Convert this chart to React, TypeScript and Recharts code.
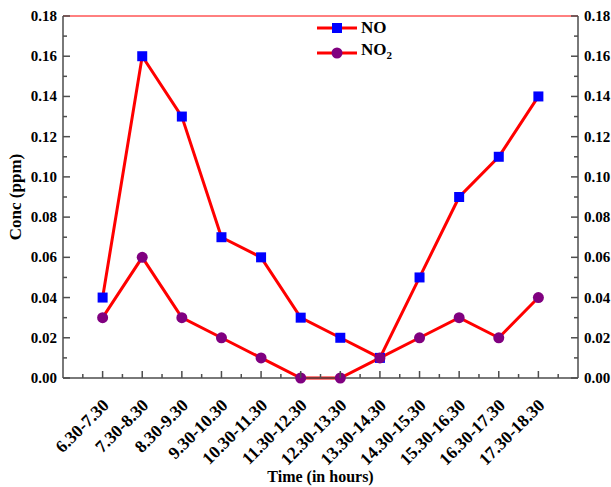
import React from "react"
import { LineChart, Line, XAxis, YAxis, ReferenceLine } from "recharts"

// hourly windows and measured concentrations (ppm)
const TIME_SLOTS = [
  "6.30-7.30", "7.30-8.30", "8.30-9.30", "9.30-10.30", "10.30-11.30", "11.30-12.30",
  "12.30-13.30", "13.30-14.30", "14.30-15.30", "15.30-16.30", "16.30-17.30", "17.30-18.30",
]
const NO_VALUES = [0.04, 0.16, 0.13, 0.07, 0.06, 0.03, 0.02, 0.01, 0.05, 0.09, 0.11, 0.14]
const NO2_VALUES = [0.03, 0.06, 0.03, 0.02, 0.01, 0.0, 0.0, 0.01, 0.02, 0.03, 0.02, 0.04]
const CONC_TICKS = [
  0, 0.01, 0.02, 0.03, 0.04, 0.05, 0.06, 0.07, 0.08, 0.09,
  0.1, 0.11, 0.12, 0.13, 0.14, 0.15, 0.16, 0.17, 0.18,
]

const SERIF = "'Liberation Serif', 'Times New Roman', serif"
const AXIS = "#4d4d4d"
const LINE_RED = "#ff0000"
const NO_BLUE = "#0000ff"
const NO2_PURPLE = "#800080"

const rows = TIME_SLOTS.map((t, i) => ({ slot: i + 1, label: t, no: NO_VALUES[i], no2: NO2_VALUES[i] }))
// slot positions plus the half-way minor ticks
const SLOT_TICKS = Array.from({ length: TIME_SLOTS.length * 2 + 1 }, (_, k) => 0.5 + k * 0.5)

const isMajorConc = (v: number) => Math.round(v * 100) % 2 === 0

const LeftTick = ({ x, y, payload }: any) => {
  const v = payload.value
  const major = isMajorConc(v)
  return (
    <g>
      <line x1={x} x2={x + (major ? 7 : 4)} y1={y} y2={y} stroke={AXIS} strokeWidth={1.5} />
      {major && (
        <text x={x - 6} y={y} dy={5} textAnchor="end" fontFamily={SERIF} fontWeight="bold" fontSize={15} fill="#000">
          {v.toFixed(2)}
        </text>
      )}
    </g>
  )
}

const RightTick = ({ x, y, payload }: any) => {
  const v = payload.value
  const major = isMajorConc(v)
  return (
    <g>
      <line x1={x} x2={x - (major ? 7 : 4)} y1={y} y2={y} stroke={AXIS} strokeWidth={1.5} />
      {major && (
        <text x={x + 6} y={y} dy={5} textAnchor="start" fontFamily={SERIF} fontWeight="bold" fontSize={15} fill="#000">
          {v.toFixed(2)}
        </text>
      )}
    </g>
  )
}

const TimeTick = ({ x, y, payload }: any) => {
  const v = payload.value
  const major = Number.isInteger(v)
  const label = major ? TIME_SLOTS[v - 1] : null
  return (
    <g>
      <line x1={x} x2={x} y1={y} y2={y - (major ? 7 : 4)} stroke={AXIS} strokeWidth={1.5} />
      {label && (
        <text
          transform={`translate(${x + 3},${y + 24}) rotate(-45)`}
          textAnchor="end"
          dy="0.35em"
          fontFamily={SERIF}
          fontWeight="bold"
          fontSize={17.5}
          fill="#000"
        >
          {label}
        </text>
      )}
    </g>
  )
}

const SquareDot = ({ cx, cy }: any) => (
  <rect x={cx - 5} y={cy - 5} width={10} height={10} fill={NO_BLUE} />
)

const RoundDot = ({ cx, cy }: any) => <circle cx={cx} cy={cy} r={5.5} fill={NO2_PURPLE} />

const SeriesKey = () => {
  const items = [
    { key: "no", name: <>NO</>, marker: <rect x={15} y={2} width={10} height={10} fill={NO_BLUE} /> },
    {
      key: "no2",
      name: (
        <>
          NO<sub style={{ fontSize: 11 }}>2</sub>
        </>
      ),
      marker: <circle cx={20} cy={7} r={5.5} fill={NO2_PURPLE} />,
    },
  ]
  return (
    <div
      style={{
        position: "absolute",
        left: 317,
        top: 15,
        fontFamily: SERIF,
        fontWeight: "bold",
        fontSize: 17,
        color: "#000",
      }}
    >
      {items.map((it) => (
        <div key={it.key} style={{ display: "flex", alignItems: "center", height: 25 }}>
          <svg width={42} height={14} style={{ marginRight: 2 }}>
            <line x1={0} x2={40} y1={7} y2={7} stroke={LINE_RED} strokeWidth={3} />
            {it.marker}
          </svg>
          <span style={{ lineHeight: "17px" }}>{it.name}</span>
        </div>
      ))}
    </div>
  )
}

export default function App() {
  return (
    <div style={{ position: "absolute", left: 0, top: 0, width: 611, height: 487, background: "#fff" }}>
      <LineChart width={611} height={487} data={rows} margin={{ top: 16, right: 0, bottom: 0, left: 0 }}>
        <XAxis
          dataKey="slot"
          type="number"
          domain={[0, 13]}
          ticks={SLOT_TICKS}
          interval={0}
          height={109}
          stroke={AXIS}
          strokeWidth={1.5}
          tickLine={false}
          tickSize={0}
          tickMargin={0}
          tick={<TimeTick />}
          label={({ viewBox }: any) => (
            <text
              x={viewBox.x + viewBox.width / 2}
              y={482}
              textAnchor="middle"
              fontFamily={SERIF}
              fontWeight="bold"
              fontSize={16}
              fill="#000"
            >
              Time (in hours)
            </text>
          )}
        />
        <YAxis
          yAxisId="left"
          domain={[0, 0.18]}
          ticks={CONC_TICKS}
          interval={0}
          width={63}
          stroke={AXIS}
          strokeWidth={1.5}
          tickLine={false}
          tickSize={0}
          tickMargin={0}
          tick={<LeftTick />}
          label={({ viewBox }: any) => (
            <text
              transform={`translate(15,${viewBox.y + viewBox.height / 2}) rotate(-90)`}
              textAnchor="middle"
              dy="0.35em"
              fontFamily={SERIF}
              fontWeight="bold"
              fontSize={17}
              fill="#000"
            >
              Conc (ppm)
            </text>
          )}
        />
        <YAxis
          yAxisId="right"
          orientation="right"
          domain={[0, 0.18]}
          ticks={CONC_TICKS}
          interval={0}
          width={33}
          stroke={AXIS}
          strokeWidth={1.5}
          tickLine={false}
          tickSize={0}
          tickMargin={0}
          tick={<RightTick />}
        />
        <ReferenceLine yAxisId="left" y={0.18} stroke={LINE_RED} strokeWidth={1} />
        <Line
          yAxisId="left"
          dataKey="no"
          name="NO"
          stroke={LINE_RED}
          strokeWidth={3}
          dot={<SquareDot />}
          activeDot={false}
          isAnimationActive={false}
        />
        <Line
          yAxisId="left"
          dataKey="no2"
          name="NO2"
          stroke={LINE_RED}
          strokeWidth={3}
          dot={<RoundDot />}
          activeDot={false}
          isAnimationActive={false}
        />
        <Line
          yAxisId="right"
          dataKey="no2"
          stroke="none"
          dot={false}
          activeDot={false}
          legendType="none"
          isAnimationActive={false}
        />
      </LineChart>
      <SeriesKey />
    </div>
  )
}
